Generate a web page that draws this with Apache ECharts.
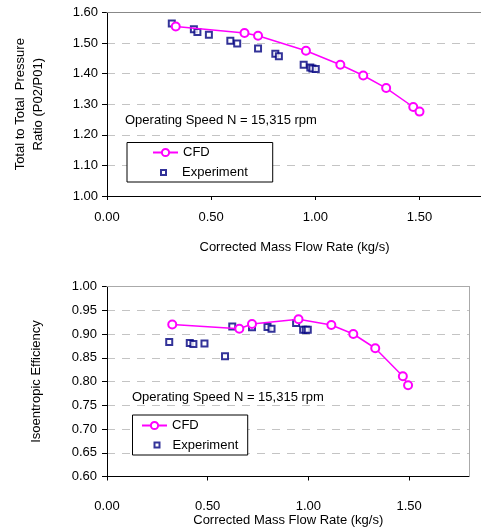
<!DOCTYPE html>
<html>
<head>
<meta charset="utf-8">
<script src="https://cdn.jsdelivr.net/npm/echarts@6/dist/echarts.min.js"></script>
<style>
html,body{margin:0;padding:0;background:#fff;}
#c{width:481px;height:532px;}
</style>
</head>
<body>
<div id="c"></div>
<script>
// ---- data ----
var xTicks = [0, 0.5, 1.0, 1.5];
var prTicks = [1.0, 1.1, 1.2, 1.3, 1.4, 1.5, 1.6];
var effTicks = [0.60, 0.65, 0.70, 0.75, 0.80, 0.85, 0.90, 0.95, 1.00];

var cfdFlow1 = [0.33, 0.66, 0.725, 0.955, 1.12, 1.23, 1.34, 1.47, 1.50];
var cfdPR    = [1.554, 1.533, 1.524, 1.475, 1.429, 1.394, 1.353, 1.291, 1.276];
var expFlow1 = [0.311, 0.417, 0.434, 0.489, 0.592, 0.625, 0.725, 0.808, 0.825, 0.944, 0.976, 0.986, 1.002];
var expPR    = [1.564, 1.545, 1.536, 1.527, 1.508, 1.499, 1.482, 1.465, 1.457, 1.429, 1.420, 1.417, 1.415];

var cfdFlow2 = [0.324, 0.657, 0.720, 0.951, 1.114, 1.223, 1.332, 1.469, 1.495];
var cfdEff   = [0.920, 0.911, 0.921, 0.931, 0.919, 0.900, 0.870, 0.811, 0.792];
var expFlow2 = [0.309, 0.411, 0.429, 0.484, 0.586, 0.622, 0.720, 0.797, 0.817, 0.939, 0.974, 0.987, 0.997];
var expEff   = [0.883, 0.881, 0.879, 0.880, 0.853, 0.916, 0.914, 0.915, 0.911, 0.923, 0.909, 0.909, 0.909];

var seriesNames = ['CFD', 'Experiment'];
var annotation = 'Operating Speed N = 15,315 rpm';
var xName = 'Corrected Mass Flow Rate (kg/s)';
var yName1 = 'Total to Total  Pressure\nRatio (P02/P01)';
var yName2 = 'Isoentropic Efficiency';

function zip(a, b) { return a.map(function (v, i) { return [v, b[i]]; }); }

var FONT = 'Liberation Sans, Arial, sans-serif';
var txt = { color: '#000', fontFamily: FONT, fontSize: 13 };
var fmt2 = function (v) { return Number(v).toFixed(2); };

function xAxisMain(grid, margin, gap) {
  return {
    type: 'value', gridIndex: grid, min: 0, max: 1.8, interval: 0.5,
    name: xName, nameLocation: 'middle', nameGap: gap, nameTextStyle: txt,
    axisLine: { show: true, onZero: false, lineStyle: { color: '#000', width: 1 } },
    axisTick: { show: true, length: 4, lineStyle: { color: '#000' }, customValues: xTicks },
    axisLabel: Object.assign({ margin: margin, formatter: fmt2, customValues: xTicks }, txt),
    splitLine: { show: false }
  };
}
function borderX(grid, color) {
  return {
    type: 'value', gridIndex: grid, position: 'top', min: 0, max: 1.8, z: 5,
    axisLine: { show: true, onZero: false, lineStyle: { color: color, width: 1 } },
    axisTick: { show: false }, axisLabel: { show: false }, splitLine: { show: false }
  };
}
var dash = { color: '#c4c4c4', width: 1, type: [8, 7] };

var option = {
  animation: false,
  backgroundColor: '#fff',
  textStyle: { fontFamily: FONT },
  grid: [
    { left: 107, right: -1, top: 12.5, bottom: 336, containLabel: false, outerBoundsMode: 'none' },
    { left: 107, right: 11.5, top: 286.5, bottom: 55.5, containLabel: false, outerBoundsMode: 'none' }
  ],
  xAxis: [
    xAxisMain(0, 15, 45),
    xAxisMain(1, 23, 37),
    borderX(0, '#888'),
    borderX(1, '#aaa')
  ],
  yAxis: [
    {
      type: 'value', gridIndex: 0, min: 1.0, max: 1.6, interval: 0.1,
      name: yName1, nameLocation: 'middle', nameGap: 60, nameRotate: 90,
      nameTextStyle: Object.assign({ lineHeight: 18 }, txt),
      axisLine: { show: true, onZero: false, lineStyle: { color: '#000' } },
      axisTick: { show: true, length: 5, lineStyle: { color: '#000' } },
      axisLabel: Object.assign({ margin: 9, formatter: fmt2 }, txt),
      splitLine: { show: true, lineStyle: dash }
    },
    {
      type: 'value', gridIndex: 1, min: 0.6, max: 1.0, interval: 0.05,
      name: yName2, nameLocation: 'middle', nameGap: 64, nameRotate: 90,
      nameTextStyle: txt,
      axisLine: { show: true, onZero: false, lineStyle: { color: '#000' } },
      axisTick: { show: true, length: 5, lineStyle: { color: '#000' } },
      axisLabel: Object.assign({ margin: 10, formatter: fmt2 }, txt),
      splitLine: { show: true, lineStyle: dash }
    },
    {
      type: 'value', gridIndex: 1, position: 'right', min: 0.6, max: 1.0, z: 5,
      axisLine: { show: true, onZero: false, lineStyle: { color: '#aaa' } },
      axisTick: { show: false }, axisLabel: { show: false }, splitLine: { show: false }
    }
  ],
  legend: [
    {
      data: [seriesNames[0]], orient: 'vertical', left: 127, top: 142.5,
      padding: [3.5, 63, 23, 25], itemWidth: 25, itemHeight: 9,
      borderColor: '#000', borderWidth: 1, backgroundColor: '#fff',
      textStyle: txt, selectedMode: false
    },
    {
      data: [seriesNames[1]], orient: 'vertical', left: 160, top: 166,
      padding: 0, itemWidth: 5, itemHeight: 5,
      textStyle: Object.assign({ padding: [0, 0, 0, 11] }, txt), selectedMode: false
    },
    {
      data: [seriesNames[0]], orient: 'vertical', left: 132.5, top: 415,
      padding: [4, 49, 23, 8.5], itemWidth: 25, itemHeight: 9,
      borderColor: '#000', borderWidth: 1, backgroundColor: '#fff',
      textStyle: txt, selectedMode: false
    },
    {
      data: [seriesNames[1]], orient: 'vertical', left: 153.5, top: 438.5,
      padding: 0, itemWidth: 5, itemHeight: 5,
      textStyle: Object.assign({ padding: [0, 0, 0, 8] }, txt), selectedMode: false
    }
  ],
  graphic: [
    { type: 'text', left: 125, top: 114, z: 10,
      style: { text: annotation, font: '13px ' + FONT, fill: '#000' } },
    { type: 'text', left: 132, top: 391, z: 10,
      style: { text: annotation, font: '13px ' + FONT, fill: '#000' } }
  ],
  series: [
    {
      name: seriesNames[0], type: 'line', xAxisIndex: 0, yAxisIndex: 0,
      data: zip(cfdFlow1, cfdPR), symbol: 'emptyCircle', symbolSize: 8,
      lineStyle: { color: '#ff00ff', width: 1.5 },
      itemStyle: { color: '#ff00ff', borderWidth: 1 }, z: 3
    },
    {
      name: seriesNames[1], type: 'scatter', xAxisIndex: 0, yAxisIndex: 0,
      data: zip(expFlow1, expPR), symbol: 'emptyRect', symbolSize: 6,
      itemStyle: { color: '#000080', borderWidth: 1 }, z: 2
    },
    {
      name: seriesNames[0], type: 'line', xAxisIndex: 1, yAxisIndex: 1,
      data: zip(cfdFlow2, cfdEff), symbol: 'emptyCircle', symbolSize: 8,
      lineStyle: { color: '#ff00ff', width: 1.5 },
      itemStyle: { color: '#ff00ff', borderWidth: 1 }, z: 3
    },
    {
      name: seriesNames[1], type: 'scatter', xAxisIndex: 1, yAxisIndex: 1,
      data: zip(expFlow2, expEff), symbol: 'emptyRect', symbolSize: 6,
      itemStyle: { color: '#000080', borderWidth: 1 }, z: 2
    }
  ]
};

var chart = echarts.init(document.getElementById('c'), null, { renderer: 'canvas' });
chart.setOption(option);
</script>
</body>
</html>
